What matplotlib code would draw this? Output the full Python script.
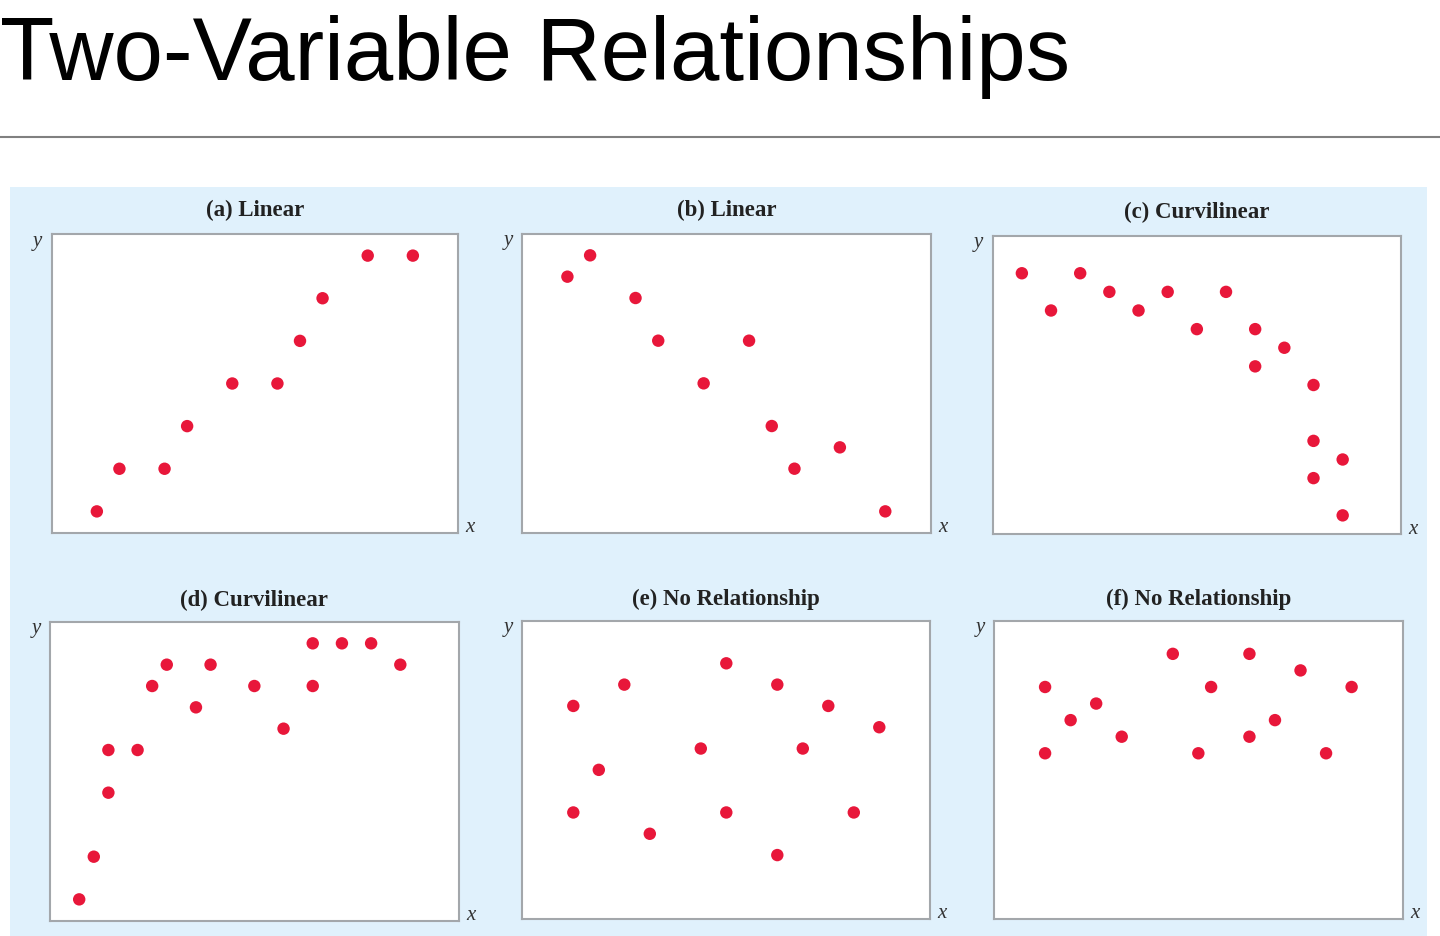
import matplotlib
matplotlib.use("Agg")
import matplotlib.pyplot as plt
from matplotlib.patches import Rectangle
from matplotlib.lines import Line2D

# ---------------- data ----------------
titles = ["(a) Linear", "(b) Linear", "(c) Curvilinear",
          "(d) Curvilinear", "(e) No Relationship", "(f) No Relationship"]

a_x = [2, 3, 5, 6, 8, 10, 11, 12, 14, 16]
a_y = [1, 3, 3, 5, 7, 7, 9, 11, 13, 13]

b_x = [2, 3, 5, 6, 8, 10, 11, 12, 14, 16]
b_y = [12, 13, 11, 9, 7, 9, 5, 3, 4, 1]

c_x = [1, 2, 3, 4, 5, 6, 7, 8, 9, 9, 10, 11, 11, 11, 12, 12]
c_y = [14, 12, 14, 13, 12, 13, 11, 13, 11, 9, 10, 8, 5, 3, 4, 1]

d_x = [2, 3, 4, 4, 6, 7, 8, 10, 11, 14, 16, 18, 18, 20, 22, 24]
d_y = [1, 3, 6, 8, 8, 11, 12, 10, 12, 11, 9, 13, 11, 13, 13, 12]

e_x = [2, 2, 3, 4, 5, 7, 8, 8, 10, 10, 11, 12, 13, 14]
e_y = [10, 5, 7, 11, 4, 8, 12, 5, 11, 3, 8, 10, 5, 9]

f_x = [4, 4, 6, 8, 10, 14, 16, 17, 20, 20, 22, 24, 26, 28]
f_y = [14, 10, 12, 13, 11, 16, 10, 14, 16, 11, 12, 15, 10, 14]

xs = [a_x, b_x, c_x, d_x, e_x, f_x]
ys = [a_y, b_y, c_y, d_y, e_y, f_y]
x_limits = [18, 18, 14, 28, 16, 32]
y_limits = [14, 14, 16, 14, 14, 18]

# ---------------- figure ----------------
W, H = 1440, 936
fig = plt.figure(figsize=(W / 100, H / 100), dpi=100)
fig.patch.set_facecolor("white")


def fx(px):
    return px / W


def fy(py):
    return 1 - py / H


# Title
fig.text(fx(0), fy(80), "Two-Variable Relationships", fontsize=64,
         family="Liberation Sans", color="black", ha="left", va="baseline")

# Rule
fig.add_artist(Line2D([0, 1], [fy(136.5), fy(136.5)], transform=fig.transFigure,
                      color="#808080", linewidth=1.5))

# Light blue panel
fig.add_artist(Rectangle((fx(9.5), fy(936)), fx(1427) - fx(9.5), fy(187) - fy(936),
                         transform=fig.transFigure, facecolor="#E0F1FC",
                         edgecolor="none", zorder=0))

# axes boxes in pixels: left, top, right, bottom
boxes = [
    (51.7, 234.3, 458.0, 532.7),
    (522.0, 234.0, 930.7, 532.7),
    (992.7, 236.0, 1401.0, 534.0),
    (50.0, 622.0, 458.7, 920.7),
    (522.3, 620.7, 930.3, 919.0),
    (994.0, 620.7, 1402.7, 919.0),
]
title_base = [216, 216.5, 218, 606, 605, 605]

dot_color = "#E8173A"
frame_color = "#A3A7AB"

for i in range(6):
    l, t, r, b = boxes[i]
    ax = fig.add_axes([fx(l), fy(b), fx(r) - fx(l), fy(t) - fy(b)])
    ax.set_facecolor("white")
    ax.scatter(xs[i], ys[i], s=80, color=dot_color, edgecolors="none", zorder=3)
    ax.set_xlim(0, x_limits[i])
    ax.set_ylim(0, y_limits[i])
    ax.set_xticks([])
    ax.set_yticks([])
    for sp in ax.spines.values():
        sp.set_color(frame_color)
        sp.set_linewidth(1.5)
    cx = (l + r) / 2
    fig.text(fx(cx), fy(title_base[i]), titles[i], fontsize=16.5,
             family="Liberation Serif", fontweight="bold", color="#222222",
             ha="center", va="baseline")
    fig.text(fx(l - 14), fy(t + 7), "y", fontsize=15, family="Liberation Serif",
             style="italic", color="#333333", ha="center", va="center")
    fig.text(fx(r + 12), fy(b - 5), "x", fontsize=15, family="Liberation Serif",
             style="italic", color="#333333", ha="center", va="center")

fig.savefig("out.png", dpi=100, facecolor="white")
